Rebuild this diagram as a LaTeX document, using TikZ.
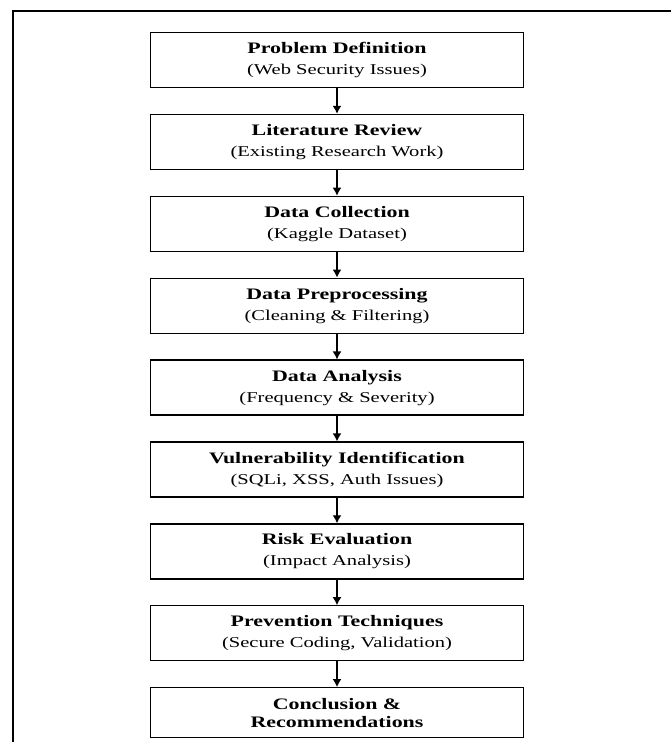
\documentclass[tikz,border=0pt]{standalone}
\usepackage{fontspec}
\setmainfont{Liberation Serif}[FakeStretch=1.37]
\usetikzlibrary{positioning,arrows.meta}
\begin{document}
\begin{tikzpicture}[>={Latex[length=8pt,width=9pt]},
  stage/.style={draw,line width=1.3pt,minimum width=373pt,minimum height=55pt,inner sep=2pt,
    align=center,font=\fontsize{15}{21}\selectfont},
  node distance=25.6pt]
\useasboundingbox (0,0) rectangle (671pt,-742pt);
\draw[line width=2pt] (13pt,-742pt)--(13pt,-11pt)--(671pt,-11pt);
\node[stage] (problem) at (337pt,-60pt){{\fontsize{16}{21}\selectfont\bfseries Problem Definition}\\(Web Security Issues)};
\node[stage,below=of problem] (review){{\fontsize{16}{21}\selectfont\bfseries Literature Review}\\(Existing Research Work)};
\node[stage,below=of review] (collect){{\fontsize{16}{21}\selectfont\bfseries Data Collection}\\(Kaggle Dataset)};
\node[stage,below=of collect] (preproc){{\fontsize{16}{21}\selectfont\bfseries Data Preprocessing}\\(Cleaning \& Filtering)};
\node[stage,below=of preproc] (analysis){{\fontsize{16}{21}\selectfont\bfseries Data Analysis}\\(Frequency \& Severity)};
\node[stage,below=of analysis] (vuln){{\fontsize{16}{21}\selectfont\bfseries Vulnerability Identification}\\(SQLi, XSS, Auth Issues)};
\node[stage,below=of vuln] (risk){{\fontsize{16}{21}\selectfont\bfseries Risk Evaluation}\\(Impact Analysis)};
\node[stage,below=of risk] (prevent){{\fontsize{16}{21}\selectfont\bfseries Prevention Techniques}\\(Secure Coding, Validation)};
\node[stage,below=of prevent,minimum height=50pt,font=\fontsize{16}{18}\selectfont\bfseries] (concl){Conclusion \&\\Recommendations};
\foreach \a/\b in {problem/review,review/collect,collect/preproc,preproc/analysis,analysis/vuln,vuln/risk,risk/prevent,prevent/concl}
  \draw[->,line width=1.3pt] (\a)--(\b);
\end{tikzpicture}
\end{document}
